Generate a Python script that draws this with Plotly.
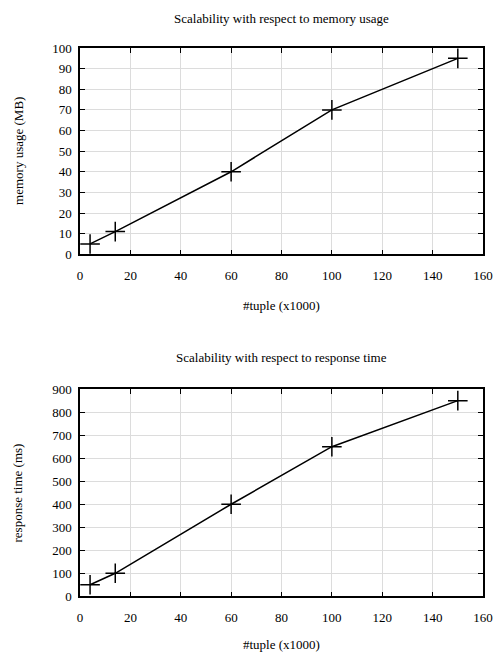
import plotly.graph_objects as go

tuples = [4, 14, 60, 100, 150]
memory_mb = [5, 11, 40, 70, 95]
response_ms = [50, 100, 400, 650, 850]

titles = ["Scalability with respect to memory usage", "Scalability with respect to response time"]
y_titles = ["memory usage (MB)", "response time (ms)"]
x_title = "#tuple (x1000)"

W, H = 493, 661
L, R = 80, 488
font = dict(family="Liberation Serif", size=13, color="black")

fig = go.Figure()
line = dict(color="black", width=1.5)
marker = dict(symbol="cross-thin", size=14, line=dict(color="black", width=1.5), color="black")
fig.add_trace(go.Scatter(x=tuples, y=memory_mb, mode="lines+markers", line=line, marker=marker,
                         xaxis="x", yaxis="y", showlegend=False))
fig.add_trace(go.Scatter(x=tuples, y=response_ms, mode="lines+markers", line=line, marker=marker,
                         xaxis="x2", yaxis="y2", showlegend=False))

def py(p):
    return 1 - p / H

axis_common = dict(showline=True, linecolor="black", linewidth=1.5, mirror="ticks", ticks="inside",
                   ticklen=5, tickcolor="black", tickwidth=1.2, showgrid=True, gridcolor="#dcdcdc",
                   gridwidth=1, zeroline=False, tickfont=font, ticklabeloverflow="allow")

fig.update_layout(
    width=W, height=H, margin=dict(l=L, r=W - R, t=0, b=0),
    plot_bgcolor="white", paper_bgcolor="white", font=font,
    xaxis=dict(domain=[0, 1], range=[0, 160], dtick=20, anchor="y", ticklabelstandoff=8, **axis_common),
    yaxis=dict(domain=[py(253), py(42)], range=[0, 100], dtick=10, anchor="x", ticklabelstandoff=4, **axis_common),
    xaxis2=dict(domain=[0, 1], range=[0, 160], dtick=20, anchor="y2", ticklabelstandoff=8, **axis_common),
    yaxis2=dict(domain=[py(603), py(391)], range=[0, 900], dtick=100, anchor="x2", ticklabelstandoff=4, **axis_common),
)

ann = []
for t, yp in zip(titles, [12, 359]):
    ann.append(dict(text=t, x=0.5, y=py(yp), xref="paper", yref="paper", showarrow=False,
                    font=font, xanchor="center", yanchor="middle"))
for yp in [305, 652]:
    ann.append(dict(text=x_title, x=0.5, y=py(yp), xref="paper", yref="paper", showarrow=False,
                    font=font, xanchor="center", yanchor="middle"))
for t, (a, b) in zip(y_titles, [(42, 253), (391, 603)]):
    ann.append(dict(text=t, x=(17 - L) / (R - L), y=py((a + b) / 2), xref="paper", yref="paper",
                    showarrow=False, font=font, textangle=-90, xanchor="center", yanchor="middle"))
fig.update_layout(annotations=ann)

fig.write_html("out.html")
